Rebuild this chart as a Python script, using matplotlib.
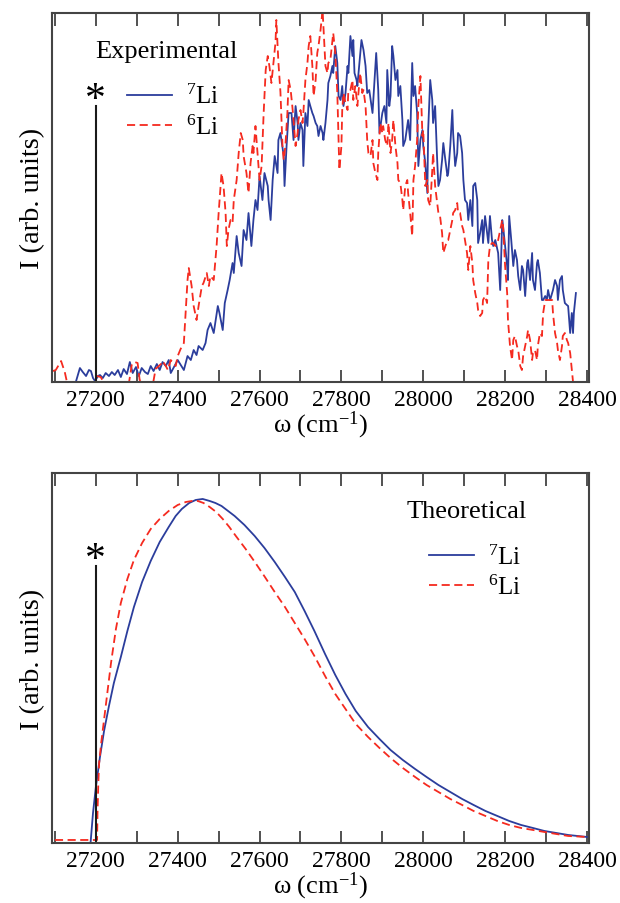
import matplotlib
matplotlib.use('Agg')
import matplotlib.pyplot as plt
from matplotlib.ticker import MultipleLocator

plt.rcParams['font.family'] = ['Liberation Serif', 'DejaVu Serif']
plt.rcParams['mathtext.fontset'] = 'custom'
plt.rcParams['mathtext.rm'] = 'Liberation Serif'
plt.rcParams['mathtext.it'] = 'Liberation Serif:italic'

# ---- experimental spectra (arb. units) ----
w_exp7 = [27151, 27161, 27168, 27176, 27183, 27188, 27193, 27198, 27205, 27210,
          27217, 27224, 27232, 27239, 27246, 27254, 27261, 27268, 27276, 27283,
          27290, 27298, 27305, 27312, 27320, 27327, 27334, 27341, 27349, 27356,
          27363, 27371, 27378, 27383, 27400, 27415, 27424, 27432, 27439, 27446,
          27451, 27461, 27468, 27473, 27480, 27488, 27498, 27502, 27510, 27515,
          27522, 27527, 27534, 27537, 27544, 27549, 27556, 27561, 27568, 27573,
          27580, 27585, 27590, 27595, 27600, 27607, 27612, 27620, 27622, 27627,
          27632, 27637, 27644, 27646, 27651, 27659, 27661, 27666, 27671, 27678,
          27683, 27688, 27693, 27695, 27700, 27705, 27707, 27712, 27717, 27720,
          27724, 27729, 27732, 27737, 27741, 27744, 27749, 27754, 27756, 27761,
          27766, 27768, 27773, 27778, 27780, 27785, 27790, 27793, 27798, 27802,
          27805, 27810, 27815, 27817, 27822, 27827, 27829, 27832, 27837, 27839,
          27844, 27849, 27854, 27859, 27863, 27868, 27876, 27878, 27885, 27890,
          27893, 27900, 27905, 27910, 27912, 27917, 27920, 27924, 27927, 27932,
          27937, 27939, 27944, 27949, 27951, 27956, 27961, 27963, 27968, 27973,
          27976, 27980, 27985, 27988, 27993, 27998, 28000, 28005, 28010, 28012,
          28017, 28022, 28024, 28029, 28034, 28037, 28041, 28046, 28049, 28054,
          28059, 28061, 28066, 28071, 28073, 28078, 28083, 28085, 28090, 28095,
          28098, 28102, 28107, 28110, 28115, 28120, 28122, 28127, 28132, 28134,
          28139, 28144, 28146, 28151, 28156, 28159, 28163, 28168, 28171, 28176,
          28183, 28188, 28193, 28195, 28200, 28205, 28207, 28210, 28215, 28220,
          28224, 28229, 28232, 28237, 28241, 28244, 28249, 28254, 28256, 28261,
          28266, 28268, 28273, 28278, 28280, 28285, 28290, 28293, 28298, 28302,
          28305, 28310, 28315, 28317, 28322, 28327, 28329, 28334, 28339, 28341,
          28346, 28351, 28354, 28359, 28363, 28366, 28368, 28373]
I_exp7 = [0, 14, 10, 6, 12, 11, 4, 1, 6, 7,
          4, 9, 6, 10, 7, 12, 5, 13, 8, 20,
          9, 15, 6, 14, 10, 8, 16, 11, 18, 12,
          20, 16, 22, 9, 22, 12, 26, 22, 32, 27,
          36, 32, 39, 52, 59, 49, 76, 69, 52, 79,
          92, 102, 119, 109, 146, 129, 116, 152, 142, 169,
          136, 162, 182, 172, 206, 182, 209, 196, 182, 162,
          202, 226, 209, 242, 249, 226, 196, 236, 269, 269,
          242, 276, 259, 242, 259, 252, 216, 269, 256, 282,
          276, 269, 266, 259, 256, 246, 256, 249, 242, 259,
          282, 299, 306, 316, 309, 336, 319, 286, 282, 296,
          276, 289, 316, 309, 346, 326, 342, 309, 302, 296,
          319, 342, 332, 316, 289, 292, 269, 282, 329, 292,
          249, 269, 276, 259, 312, 276, 286, 336, 326, 302,
          312, 286, 296, 262, 236, 242, 256, 262, 242, 319,
          286, 296, 269, 216, 242, 252, 236, 219, 189, 252,
          302, 282, 259, 276, 222, 196, 202, 222, 239, 222,
          206, 209, 236, 272, 249, 216, 229, 249, 246, 229,
          202, 182, 179, 162, 182, 156, 196, 199, 182, 139,
          149, 162, 139, 166, 149, 139, 166, 142, 136, 142,
          129, 92, 162, 156, 136, 116, 102, 166, 142, 116,
          132, 122, 106, 92, 116, 112, 86, 119, 122, 102,
          129, 102, 92, 119, 122, 109, 82, 82, 86, 82,
          92, 82, 89, 92, 102, 96, 82, 102, 106, 92,
          79, 77, 76, 49, 69, 49, 69, 89]

w_exp6 = [27095, 27102, 27115, 27124, 27132, 27163, 27198, 27202, 27212, 27222,
          27280, 27288, 27295, 27302, 27307, 27322, 27339, 27346, 27359, 27363,
          27371, 27376, 27383, 27395, 27400, 27407, 27415, 27424, 27427, 27434,
          27439, 27446, 27451, 27459, 27463, 27471, 27476, 27480, 27488, 27495,
          27500, 27507, 27512, 27517, 27520, 27524, 27529, 27534, 27537, 27544,
          27549, 27554, 27559, 27561, 27568, 27573, 27578, 27583, 27585, 27590,
          27595, 27600, 27605, 27610, 27615, 27620, 27624, 27629, 27634, 27639,
          27641, 27646, 27651, 27656, 27659, 27663, 27668, 27671, 27676, 27680,
          27683, 27688, 27693, 27695, 27700, 27705, 27707, 27712, 27717, 27720,
          27724, 27729, 27732, 27737, 27741, 27744, 27749, 27754, 27756, 27761,
          27766, 27768, 27773, 27778, 27780, 27785, 27790, 27793, 27795, 27800,
          27802, 27805, 27810, 27815, 27817, 27822, 27827, 27829, 27834, 27839,
          27841, 27846, 27851, 27854, 27859, 27863, 27866, 27871, 27876, 27878,
          27883, 27888, 27890, 27895, 27900, 27902, 27907, 27912, 27915, 27920,
          27924, 27927, 27932, 27937, 27939, 27944, 27949, 27951, 27956, 27961,
          27963, 27968, 27973, 27976, 27980, 27985, 27988, 27993, 27998, 28000,
          28005, 28010, 28012, 28017, 28022, 28024, 28029, 28034, 28037, 28041,
          28046, 28049, 28054, 28059, 28061, 28066, 28071, 28073, 28078, 28083,
          28085, 28090, 28095, 28098, 28102, 28107, 28110, 28115, 28120, 28122,
          28127, 28132, 28134, 28139, 28144, 28146, 28151, 28156, 28159, 28163,
          28168, 28171, 28176, 28183, 28193, 28195, 28200, 28205, 28207, 28212,
          28217, 28220, 28224, 28229, 28232, 28237, 28241, 28244, 28249, 28254,
          28256, 28261, 28266, 28268, 28273, 28278, 28280, 28285, 28290, 28293,
          28298, 28305, 28315, 28317, 28322, 28327, 28329, 28334, 28339, 28341,
          28346, 28351, 28354, 28359, 28363, 28366, 28371]
I_exp6 = [11, 12, 21, 10, -5, -5, -3, 6, 5, -3,
          -3, 18, 20, 19, 2, -3, -3, 13, 18, 21,
          16, 12, 22, 16, 26, 33, 39, 102, 114, 96,
          76, 62, 76, 96, 99, 109, 96, 106, 102, 136,
          169, 209, 196, 169, 136, 152, 162, 159, 182, 202,
          229, 249, 242, 226, 209, 189, 219, 236, 229, 256,
          229, 202, 216, 269, 312, 326, 316, 299, 319, 340,
          362, 320, 290, 236, 222, 236, 269, 302, 292, 276,
          262, 236, 249, 262, 272, 259, 269, 302, 319, 336,
          346, 316, 286, 302, 329, 336, 352, 372, 356, 316,
          309, 319, 322, 342, 349, 329, 289, 242, 212, 236,
          272, 289, 279, 272, 292, 292, 302, 282, 296, 276,
          286, 309, 289, 292, 276, 242, 229, 226, 242, 219,
          209, 202, 229, 259, 249, 256, 242, 236, 259, 229,
          242, 262, 236, 219, 202, 199, 182, 172, 196, 202,
          189, 169, 146, 202, 216, 242, 276, 306, 246, 252,
          196, 202, 182, 176, 212, 229, 196, 179, 169, 166,
          149, 129, 136, 142, 142, 152, 162, 169, 172, 179,
          169, 169, 156, 152, 142, 129, 112, 136, 119, 102,
          89, 79, 72, 66, 69, 82, 86, 79, 122, 136,
          139, 139, 136, 142, 162, 156, 116, 89, 62, 36,
          22, 42, 46, 36, 32, 16, 12, 26, 36, 46,
          52, 42, 22, 29, 32, 22, 36, 49, 46, 69,
          82, 82, 82, 69, 49, 39, 32, 22, 36, 46,
          49, 42, 39, 29, 12, 0, -10]

# ---- theoretical spectra (arb. units) ----
w_th7 = [27100, 27187, 27193, 27200, 27210, 27220, 27232, 27244, 27261, 27277,
         27293, 27313, 27334, 27356, 27378, 27395, 27410, 27428, 27444, 27461,
         27478, 27492, 27507, 27523, 27539, 27563, 27588, 27612, 27637, 27662,
         27686, 27710, 27734, 27760, 27785, 27810, 27835, 27865, 27893, 27920,
         27950, 27980, 28008, 28037, 28066, 28095, 28123, 28152, 28181, 28210,
         28239, 28268, 28296, 28325, 28354, 28400]
I_th7 = [0, 0, 30, 56, 86, 112, 137, 160, 186, 212,
         236, 261, 282, 301, 316, 327, 334, 340, 343, 344,
         342, 340, 337, 332, 327, 318, 307, 295, 281, 266,
         251, 232, 212, 189, 168, 149, 132, 116, 104, 93,
         83, 74, 66, 58, 51, 44, 38, 32, 27, 22,
         18, 15, 12, 10, 8, 6]

w_th6 = [27100, 27203, 27204, 27206, 27208, 27213, 27219, 27225, 27237, 27249,
         27261, 27277, 27293, 27313, 27334, 27356, 27378, 27400, 27420, 27435,
         27449, 27463, 27478, 27494, 27510, 27526, 27542, 27566, 27590, 27613,
         27637, 27662, 27686, 27710, 27734, 27760, 27785, 27810, 27835, 27865,
         27893, 27920, 27950, 27980, 28008, 28037, 28066, 28095, 28123, 28152,
         28181, 28210, 28239, 28268, 28296, 28325, 28354, 28400]
I_th6 = [3, 3, 30, 60, 80, 100, 120, 140, 180, 214,
         240, 264, 283, 300, 314, 324, 332, 338, 341, 342,
         342, 340, 336, 331, 324, 316, 307, 294, 280, 266,
         251, 236, 220, 204, 187, 167, 149, 134, 119, 106,
         95, 85, 75, 66, 58, 51, 44, 38, 32, 27,
         22, 18, 15, 13, 11, 9, 7, 6]

w_star = 27200
star_top = [276, 277]
titles = ['Experimental', 'Theoretical']
leg_labels = [r'$^{7}$Li', r'$^{6}$Li']

blue = '#2b3d9c'
red = '#f52a1f'

fig = plt.figure(figsize=(6.2, 9.04), dpi=100)
ax1 = fig.add_axes([0.084, 0.5763, 0.866, 0.4082])
ax2 = fig.add_axes([0.084, 0.0664, 0.866, 0.4093])

panels = [
    (ax1, w_exp7, I_exp7, w_exp6, I_exp6, 369, (0.08, 0.897), (0.14, 0.733)),
    (ax2, w_th7, I_th7, w_th6, I_th6, 370, (0.661, 0.897), (0.702, 0.733)),
]

for k, (ax, wa, ia, wb, ib, ytop, tpos, lpos) in enumerate(panels):
    l7, = ax.plot(wa, ia, color=blue, lw=1.3, label=leg_labels[0])
    l6, = ax.plot(wb, ib, color=red, lw=1.3, ls=(0, (4.5, 2.5)), label=leg_labels[1])
    ax.plot([w_star, w_star], [0, star_top[k]], color='#1a1a1a', lw=1.5)
    ax.text(w_star, star_top[k] - 13, '*', fontsize=30, ha='center', va='bottom')

    ax.set_xlim(27093, 28405)
    ax.set_ylim(0, ytop)
    ax.xaxis.set_major_locator(MultipleLocator(200))
    ax.xaxis.set_minor_locator(MultipleLocator(100))
    ax.tick_params(axis='x', which='both', direction='in', top=True,
                   length=9, width=1.2, color='#333333', labelsize=17, pad=5)
    ax.set_yticks([])
    for s in ax.spines.values():
        s.set_color('#444444')
        s.set_linewidth(1.5)

    ax.set_xlabel('ω (cm$^{-1}$)', fontsize=19, labelpad=-1)
    ax.set_ylabel('I (arb. units)', fontsize=20.5, labelpad=5)

    ax.text(tpos[0], tpos[1], titles[k], transform=ax.transAxes,
            fontsize=19, ha='left', va='center')
    ax.legend(handles=[l7, l6], loc='center left', bbox_to_anchor=lpos,
              frameon=False, fontsize=18, handlelength=1.8, handletextpad=0.55,
              labelspacing=0.25, borderpad=0, borderaxespad=0)

fig.savefig('out.png', dpi=100)
